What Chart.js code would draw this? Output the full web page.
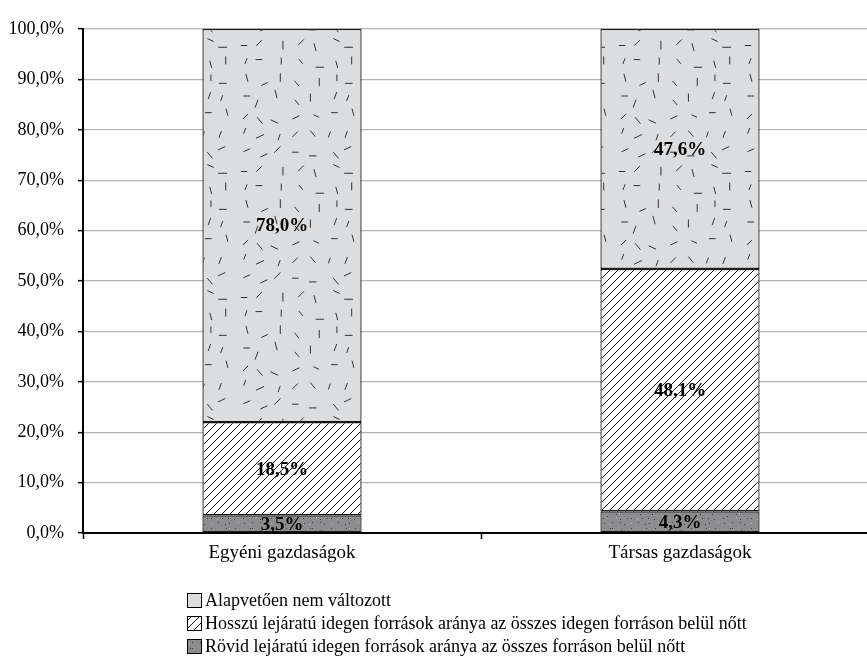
<!DOCTYPE html>
<html>
<head>
<meta charset="utf-8">
<script src="https://cdn.jsdelivr.net/npm/chart.js@4.4.1/dist/chart.umd.min.js"></script>
<style>
  html, body { margin: 0; padding: 0; background: #fff; }
  #wrap { width: 867px; height: 657px; overflow: hidden; }
</style>
</head>
<body>
<div id="wrap"><canvas id="chart" width="880" height="657"></canvas></div>
<script>
// ---- data ----
const categories = ['Egyéni gazdaságok', 'Társas gazdaságok'];
const seriesNames = [
  'Rövid lejáratú idegen források aránya az összes forráson belül nőtt',
  'Hosszú lejáratú idegen források aránya az összes idegen forráson belül nőtt',
  'Alapvetően nem változott'
];
const rovidValues = [3.5, 4.3];
const hosszuValues = [18.5, 48.1];
const alapValues = [78.0, 47.6];
const yTickValues = [0, 10, 20, 30, 40, 50, 60, 70, 80, 90, 100];

const FONT = '"Liberation Serif", "Times New Roman", serif';

// ---- fill patterns (texture only) ----
function makeTile(w, h, draw){
  const c = document.createElement('canvas');
  c.width = w; c.height = h;
  const g = c.getContext('2d');
  draw(g, w, h);
  return c;
}
// fixed-seed generator so the texture looks scattered but is the same every run
let seed = 12345;
function rnd(){ seed = (seed * 16807) % 2147483647; return (seed - 1) / 2147483646; }

const ctx = document.getElementById('chart').getContext('2d');

// dark grey with small specks
const dotsTile = makeTile(60, 24, (g, w, h) => {
  g.fillStyle = '#8d8d8f';
  g.fillRect(0, 0, w, h);
  for (let gy = 0; gy < 4; gy++){
    for (let gx = 0; gx < 10; gx++){
      g.fillStyle = (gx + gy) % 4 ? '#3a3a3a' : '#c0c0c0';
      g.fillRect(gx * 6 + Math.floor(rnd() * 5), gy * 6 + Math.floor(rnd() * 5), 1, 1);
    }
  }
});
// white with diagonal hatch "/"
const hatchTile = makeTile(8, 8, (g, w, h) => {
  g.fillStyle = '#fff';
  g.fillRect(0, 0, w, h);
  g.strokeStyle = '#111';
  g.lineWidth = 1;
  g.beginPath();
  g.moveTo(-1, h + 1); g.lineTo(w + 1, -1);
  g.moveTo(-1, 1); g.lineTo(1, -1);
  g.moveTo(w - 1, h + 1); g.lineTo(w + 1, h - 1);
  g.stroke();
});
// light grey with short scattered dashes
const dashTile = makeTile(126, 126, (g, w, h) => {
  g.fillStyle = '#dcdddf';
  g.fillRect(0, 0, w, h);
  g.strokeStyle = '#333';
  g.lineWidth = 1;
  const angles = [0, 25, 50, 75, 90, 110, 135, 155];
  g.beginPath();
  for (let gy = 0; gy < 7; gy++){
    for (let gx = 0; gx < 7; gx++){
      const cx = gx * 18 + 4 + rnd() * 10;
      const cy = gy * 18 + 4 + rnd() * 10;
      const a = angles[Math.floor(rnd() * angles.length)] * Math.PI / 180;
      const L = 3 + rnd() * 1.5;
      g.moveTo(cx - Math.cos(a) * L, cy - Math.sin(a) * L);
      g.lineTo(cx + Math.cos(a) * L, cy + Math.sin(a) * L);
    }
  }
  g.stroke();
});
const dotsFill = ctx.createPattern(dotsTile, 'repeat');
const hatchFill = ctx.createPattern(hatchTile, 'repeat');
const dashFill = ctx.createPattern(dashTile, 'repeat');

function pct(v){ return v.toFixed(1).replace('.', ',') + '%'; }

// ---- value labels in the middle of each segment ----
const segmentLabels = {
  id: 'segmentLabels',
  afterDatasetsDraw(chart){
    const g = chart.ctx;
    g.save();
    g.font = 'bold 19px ' + FONT;
    g.fillStyle = '#000';
    g.textAlign = 'center';
    g.textBaseline = 'middle';
    chart.data.datasets.forEach((ds, i) => {
      chart.getDatasetMeta(i).data.forEach((bar, j) => {
        g.fillText(pct(ds.data[j]), bar.x, (bar.y + bar.base) / 2 + 1);
      });
    });
    g.restore();
  }
};

// ---- vertical legend below the plot ----
const bottomLegend = {
  id: 'bottomLegend',
  afterDraw(chart){
    const g = chart.ctx;
    const items = chart.data.datasets.slice().reverse();
    g.save();
    g.font = '18px ' + FONT;
    g.textBaseline = 'middle';
    items.forEach((ds, i) => {
      const y = 600 + i * 23;
      g.fillStyle = ds.backgroundColor;
      g.fillRect(187, y - 7, 14, 14);
      g.strokeStyle = '#000';
      g.lineWidth = 1;
      g.strokeRect(187.5, y - 6.5, 14, 14);
      g.fillStyle = '#000';
      g.fillText(ds.label, 205, y + 1);
    });
    g.restore();
  }
};

new Chart(ctx, {
  type: 'bar',
  data: {
    labels: categories,
    datasets: [
      { label: seriesNames[0], data: rovidValues, backgroundColor: dotsFill },
      { label: seriesNames[1], data: hosszuValues, backgroundColor: hatchFill },
      { label: seriesNames[2], data: alapValues, backgroundColor: dashFill }
    ].map(d => Object.assign(d, {
      borderColor: '#1a1a1a',
      borderWidth: 1.3,
      borderSkipped: false,
      categoryPercentage: 1,
      barPercentage: 0.4
    }))
  },
  options: {
    responsive: false,
    animation: false,
    layout: { padding: { top: 29, right: 1, bottom: 84, left: 0 } },
    plugins: {
      legend: { display: false },
      tooltip: { enabled: false }
    },
    scales: {
      x: {
        stacked: true,
        afterFit: s => { s.height = 40; },
        grid: { drawOnChartArea: false, drawTicks: true, tickLength: 6, tickColor: '#000', tickWidth: 1.5, offset: true },
        border: { color: '#000', width: 2 },
        ticks: { color: '#000', padding: 3, font: { family: FONT, size: 19 } }
      },
      y: {
        stacked: true,
        min: 0,
        max: 100,
        afterFit: s => { s.width = 83; },
        afterBuildTicks: s => { s.ticks = yTickValues.map(v => ({ value: v })); },
        grid: { color: '#b4b4b4', lineWidth: 1.3, tickColor: '#000', tickLength: 5, tickWidth: 1.5 },
        border: { color: '#000', width: 2 },
        ticks: { color: '#000', padding: 14, font: { family: FONT, size: 18 }, callback: v => pct(v) }
      }
    }
  },
  plugins: [segmentLabels, bottomLegend]
});
</script>
</body>
</html>
